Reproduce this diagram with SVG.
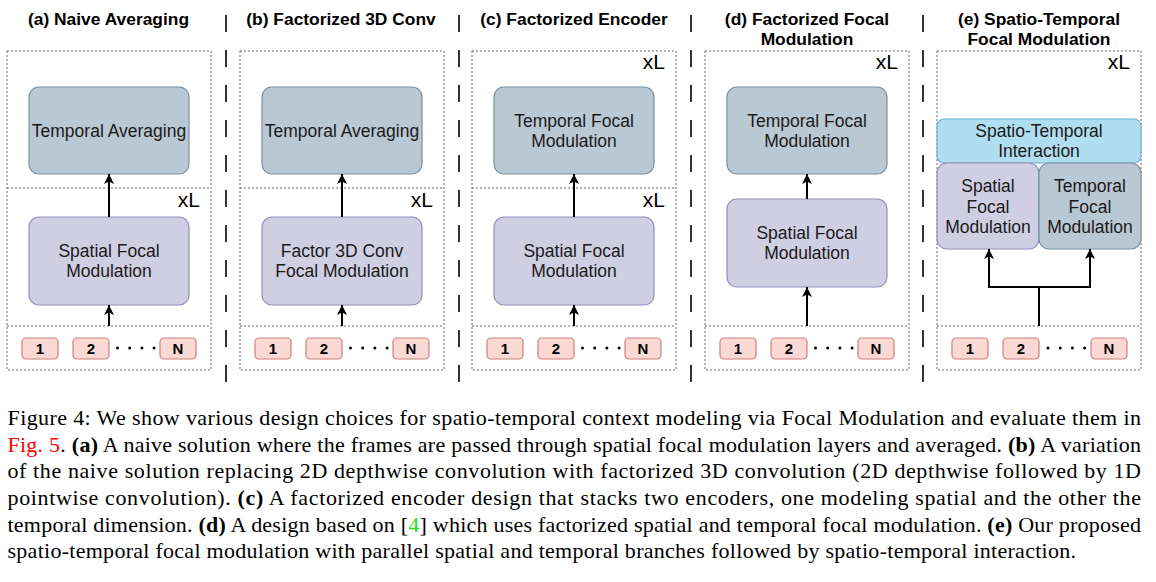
<svg xmlns="http://www.w3.org/2000/svg" width="1156" height="582" viewBox="0 0 1156 582">
<defs>
<style>
.title{font-family:"Liberation Sans",Arial,sans-serif;font-weight:bold;font-size:17.4px;fill:#000;text-anchor:middle}
.lbl{font-family:"Liberation Sans",Arial,sans-serif;font-size:17.5px;fill:#1a1a1a;text-anchor:middle}
.xl{font-family:"Liberation Sans",Arial,sans-serif;font-size:21px;fill:#000;text-anchor:end}
.tok rect{fill:#fad9d5;stroke:#d27f78;stroke-width:1.2}
.tok text{font-family:"Liberation Sans",Arial,sans-serif;font-weight:bold;font-size:15px;fill:#000;text-anchor:middle}
.panel{fill:none;stroke:#666;stroke-width:1;stroke-dasharray:2 2}
.div{stroke:#666;stroke-width:1;stroke-dasharray:2 2}
.sep{stroke:#333;stroke-width:2;stroke-dasharray:17 18}
.temp{fill:#bac8d3;stroke:#7890a2;stroke-width:1.2}
.spat{fill:#d0cee2;stroke:#938ebb;stroke-width:1.2}
.inter{fill:#b1ddf0;stroke:#6bb2d3;stroke-width:1.2}
.arrow{fill:none;stroke:#000;stroke-width:2;marker-end:url(#arr)}
.dots{stroke:#000;stroke-width:3;stroke-linecap:round;stroke-dasharray:0 12.2}
.cap{font-family:"Liberation Serif","Times New Roman",serif;font-size:22px;fill:#000}
.b{font-weight:bold}
</style>
<marker id="arr" viewBox="0 0 10 10" refX="10" refY="5" markerWidth="10" markerHeight="10" markerUnits="userSpaceOnUse" orient="auto">
<path d="M0,0 L10,5 L0,10 L2.5,5 z" fill="#000"/>
</marker>
</defs>
<rect width="1156" height="582" fill="#fff"/>

<g id="separators">
<line class="sep" x1="226" y1="15" x2="226" y2="382"/>
<line class="sep" x1="459" y1="15" x2="459" y2="382"/>
<line class="sep" x1="691" y1="15" x2="691" y2="382"/>
<line class="sep" x1="923" y1="15" x2="923" y2="382"/>
</g>

<!-- Panel (a) -->
<g id="panel-a">
<text class="title" x="108.5" y="24.5">(a) Naive Averaging</text>
<rect class="panel" x="7" y="51" width="204" height="319"/>
<line class="div" x1="7" y1="188" x2="211" y2="188"/>
<line class="div" x1="7" y1="326" x2="211" y2="326"/>
<text class="xl" x="200" y="207">xL</text>
<g id="a-temporal"><rect class="temp" x="29" y="87" width="160" height="87" rx="10"/><text class="lbl" x="109" y="137">Temporal Averaging</text></g>
<g id="a-spatial"><rect class="spat" x="29" y="217" width="160" height="88" rx="10"/><text class="lbl" x="109" y="257">Spatial Focal</text><text class="lbl" x="109" y="277">Modulation</text></g>
<g id="a-tok1" class="tok"><rect x="22" y="338" width="36" height="21" rx="4"/><text x="40" y="354">1</text></g>
<g id="a-tok2" class="tok"><rect x="73" y="338" width="36" height="21" rx="4"/><text x="91" y="354">2</text></g>
<g id="a-tokN" class="tok"><rect x="160" y="338" width="36" height="21" rx="4"/><text x="178" y="354">N</text></g>
<line class="dots" x1="117.5" y1="348" x2="155" y2="348"/>
</g>

<!-- Panel (b) -->
<g id="panel-b">
<text class="title" x="341" y="24.5">(b) Factorized 3D Conv</text>
<rect class="panel" x="240" y="51" width="204" height="319"/>
<line class="div" x1="240" y1="188" x2="444" y2="188"/>
<line class="div" x1="240" y1="326" x2="444" y2="326"/>
<text class="xl" x="433" y="207">xL</text>
<g id="b-temporal"><rect class="temp" x="262" y="87" width="160" height="87" rx="10"/><text class="lbl" x="342" y="137">Temporal Averaging</text></g>
<g id="b-spatial"><rect class="spat" x="262" y="217" width="160" height="88" rx="10"/><text class="lbl" x="342" y="257">Factor 3D Conv</text><text class="lbl" x="342" y="277">Focal Modulation</text></g>
<g id="b-tok1" class="tok"><rect x="255" y="338" width="36" height="21" rx="4"/><text x="273" y="354">1</text></g>
<g id="b-tok2" class="tok"><rect x="306" y="338" width="36" height="21" rx="4"/><text x="324" y="354">2</text></g>
<g id="b-tokN" class="tok"><rect x="393" y="338" width="36" height="21" rx="4"/><text x="411" y="354">N</text></g>
<line class="dots" x1="350.5" y1="348" x2="388" y2="348"/>
</g>

<!-- Panel (c) -->
<g id="panel-c">
<text class="title" x="574" y="24.5">(c) Factorized Encoder</text>
<rect class="panel" x="472" y="51" width="204" height="319"/>
<line class="div" x1="472" y1="188" x2="676" y2="188"/>
<line class="div" x1="472" y1="326" x2="676" y2="326"/>
<text class="xl" x="665" y="69">xL</text>
<text class="xl" x="665" y="207">xL</text>
<g id="c-temporal"><rect class="temp" x="494" y="87" width="160" height="87" rx="10"/><text class="lbl" x="574" y="127">Temporal Focal</text><text class="lbl" x="574" y="147">Modulation</text></g>
<g id="c-spatial"><rect class="spat" x="494" y="217" width="160" height="88" rx="10"/><text class="lbl" x="574" y="257">Spatial Focal</text><text class="lbl" x="574" y="277">Modulation</text></g>
<g id="c-tok1" class="tok"><rect x="487" y="338" width="36" height="21" rx="4"/><text x="505" y="354">1</text></g>
<g id="c-tok2" class="tok"><rect x="538" y="338" width="36" height="21" rx="4"/><text x="556" y="354">2</text></g>
<g id="c-tokN" class="tok"><rect x="625" y="338" width="36" height="21" rx="4"/><text x="643" y="354">N</text></g>
<line class="dots" x1="582.5" y1="348" x2="620" y2="348"/>
</g>

<!-- Panel (d) -->
<g id="panel-d">
<text class="title" x="807" y="24.5">(d) Factorized Focal</text>
<text class="title" x="807" y="44.5">Modulation</text>
<rect class="panel" x="705" y="51" width="204" height="319"/>
<line class="div" x1="705" y1="326" x2="909" y2="326"/>
<text class="xl" x="898" y="69">xL</text>
<g id="d-temporal"><rect class="temp" x="727" y="87" width="160" height="87" rx="10"/><text class="lbl" x="807" y="127">Temporal Focal</text><text class="lbl" x="807" y="147">Modulation</text></g>
<g id="d-spatial"><rect class="spat" x="727" y="199" width="160" height="88" rx="10"/><text class="lbl" x="807" y="239">Spatial Focal</text><text class="lbl" x="807" y="259">Modulation</text></g>
<g id="d-tok1" class="tok"><rect x="720" y="338" width="36" height="21" rx="4"/><text x="738" y="354">1</text></g>
<g id="d-tok2" class="tok"><rect x="771" y="338" width="36" height="21" rx="4"/><text x="789" y="354">2</text></g>
<g id="d-tokN" class="tok"><rect x="858" y="338" width="36" height="21" rx="4"/><text x="876" y="354">N</text></g>
<line class="dots" x1="815.5" y1="348" x2="853" y2="348"/>
</g>

<!-- Panel (e) -->
<g id="panel-e">
<text class="title" x="1039" y="24.5">(e) Spatio-Temporal</text>
<text class="title" x="1039" y="44.5">Focal Modulation</text>
<rect class="panel" x="937" y="51" width="204" height="319"/>
<line class="div" x1="937" y1="326" x2="1141" y2="326"/>
<text class="xl" x="1130" y="69">xL</text>
<g id="e-interaction"><rect class="inter" x="937" y="119" width="204" height="44" rx="7"/><text class="lbl" x="1039" y="137">Spatio-Temporal</text><text class="lbl" x="1039" y="157">Interaction</text></g>
<g id="e-spatial"><rect class="spat" x="937" y="163" width="102" height="86" rx="10"/><text class="lbl" x="988" y="192">Spatial</text><text class="lbl" x="988" y="213">Focal</text><text class="lbl" x="988" y="233">Modulation</text></g>
<g id="e-temporal"><rect class="temp" x="1039" y="163" width="102" height="86" rx="10"/><text class="lbl" x="1090" y="192">Temporal</text><text class="lbl" x="1090" y="213">Focal</text><text class="lbl" x="1090" y="233">Modulation</text></g>
<g id="e-tok1" class="tok"><rect x="952" y="338" width="36" height="21" rx="4"/><text x="970" y="354">1</text></g>
<g id="e-tok2" class="tok"><rect x="1003" y="338" width="36" height="21" rx="4"/><text x="1021" y="354">2</text></g>
<g id="e-tokN" class="tok"><rect x="1091" y="338" width="36" height="21" rx="4"/><text x="1109" y="354">N</text></g>
<line class="dots" x1="1048" y1="348" x2="1086" y2="348"/>
</g>

<g id="connectors">
<path class="arrow" d="M109,326 V305"/>
<path class="arrow" d="M109,217 V174"/>
<path class="arrow" d="M342,326 V305"/>
<path class="arrow" d="M342,217 V174"/>
<path class="arrow" d="M574,326 V305"/>
<path class="arrow" d="M574,217 V174"/>
<path class="arrow" d="M807,326 V287"/>
<path class="arrow" d="M807,199 V174"/>
<path class="arrow" d="M1039,326 V287 H989 V249"/>
<path class="arrow" d="M1039,326 V287 H1090 V249"/>
</g>

<g id="caption" class="cap">
<text x="7.5" y="425" textLength="1133.5" lengthAdjust="spacing">Figure 4: We show various design choices for spatio-temporal context modeling via Focal Modulation and evaluate them in</text>
<text x="7.5" y="452" textLength="1133.5" lengthAdjust="spacing"><tspan fill="#ff0000">Fig. 5</tspan>. <tspan class="b">(a)</tspan> A naive solution where the frames are passed through spatial focal modulation layers and averaged. <tspan class="b">(b)</tspan> A variation</text>
<text x="7.5" y="478" textLength="1133.5" lengthAdjust="spacing">of the naive solution replacing 2D depthwise convolution with factorized 3D convolution (2D depthwise followed by 1D</text>
<text x="7.5" y="505" textLength="1133.5" lengthAdjust="spacing">pointwise convolution). <tspan class="b">(c)</tspan> A factorized encoder design that stacks two encoders, one modeling spatial and the other the</text>
<text x="7.5" y="532" textLength="1133.5" lengthAdjust="spacing">temporal dimension. <tspan class="b">(d)</tspan> A design based on [<tspan fill="#22dd22">4</tspan>] which uses factorized spatial and temporal focal modulation. <tspan class="b">(e)</tspan> Our proposed</text>
<text x="7.5" y="558" textLength="1068.5" lengthAdjust="spacing">spatio-temporal focal modulation with parallel spatial and temporal branches followed by spatio-temporal interaction.</text>
</g>
</svg>
